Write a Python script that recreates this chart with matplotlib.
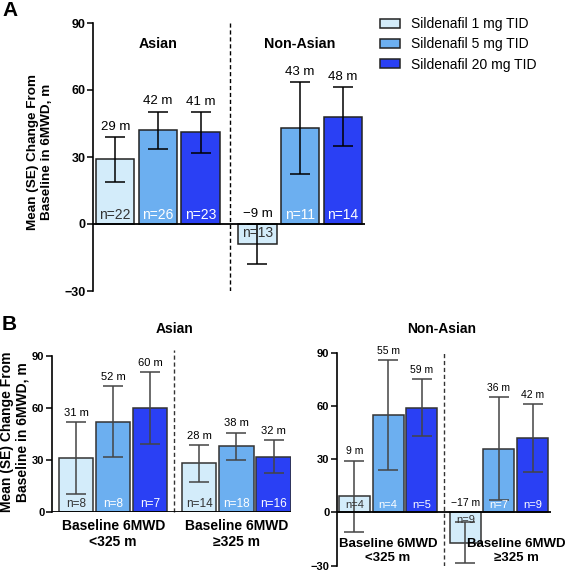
import matplotlib
matplotlib.use("Agg")
import matplotlib.pyplot as plt
from matplotlib.patches import Patch

plt.rcParams["font.family"] = ["Liberation Sans", "DejaVu Sans"]

doses = ["Sildenafil 1 mg TID", "Sildenafil 5 mg TID", "Sildenafil 20 mg TID"]
colors = ["#D3ECFA", "#6CAFF0", "#2A40F4"]
n_colors = ["#333333", "white", "white"]

# Panel A: by race
a_asian_mean = [29, 42, 41]
a_asian_se = [10, 8.3, 9.2]
a_asian_n = [22, 26, 23]
a_nonasian_mean = [-9, 43, 48]
a_nonasian_se = [9, 20.6, 13.2]
a_nonasian_n = [13, 11, 14]

# Panel B: by race and baseline 6MWD
b_asian_low_mean = [31, 52, 60]
b_asian_low_se = [20.8, 20.5, 20.6]
b_asian_low_n = [8, 8, 7]
b_asian_high_mean = [28, 38, 32]
b_asian_high_se = [10.7, 7.8, 9.5]
b_asian_high_n = [14, 18, 16]
b_nonasian_low_mean = [9, 55, 59]
b_nonasian_low_se = [20.2, 31, 16]
b_nonasian_low_n = [4, 4, 5]
b_nonasian_high_mean = [-17, 36, 42]
b_nonasian_high_se = [11.5, 29, 19]
b_nonasian_high_n = [9, 7, 9]

ylabel = "Mean (SE) Change From\nBaseline in 6MWD, m"
W, H = 565, 573


def px_axes(fig, left, top, right, bottom):
    return fig.add_axes([left / W, 1 - bottom / H, (right - left) / W, (bottom - top) / H])


def fmt(v):
    return ("\u2212%d m" % -v) if v < 0 else "%d m" % v


def draw_groups(ax, groups, offset, width, fs_val, fs_n, ecol, edge, capsize):
    for gi, (means, ses, ns) in enumerate(groups):
        xs = [gi * offset + i for i in range(3)]
        ax.bar(xs, means, width=width, color=colors, edgecolor=edge, linewidth=1.1, zorder=2)
        ax.errorbar(xs, means, yerr=ses, fmt="none", ecolor=ecol, elinewidth=1.1,
                    capsize=capsize, capthick=1.1, zorder=3)
        for i, x in enumerate(xs):
            m, s = means[i], ses[i]
            top = max(m + s, 0)
            ax.annotate(fmt(m), (x, top), xytext=(0, 3), textcoords="offset points",
                        ha="center", va="bottom", fontsize=fs_val, zorder=4)
            if m >= 0:
                ax.annotate("n=%d" % ns[i], (x, 0), xytext=(0, 1.5), textcoords="offset points",
                            ha="center", va="bottom", fontsize=fs_n, color=n_colors[i], zorder=4)
            else:
                ax.annotate("n=%d" % ns[i], (x, 0), xytext=(0, -1.5), textcoords="offset points",
                            ha="center", va="top", fontsize=fs_n, color=n_colors[i], zorder=4)


def style_axis(ax, ylim, ticks, xlim, fs):
    ax.set_ylim(*ylim)
    ax.set_xlim(*xlim)
    ax.set_yticks(ticks)
    ax.set_yticklabels([("\u2212%d" % -t) if t < 0 else str(t) for t in ticks],
                       fontsize=fs, fontweight="bold")
    ax.set_xticks([])
    for s in ["top", "right", "bottom"]:
        ax.spines[s].set_visible(False)
    ax.spines["left"].set_linewidth(1.2)
    ax.tick_params(axis="y", length=4, width=1.1, pad=1.5)
    ax.axhline(0, color="black", lw=1.3, zorder=5)
    ax.patch.set_alpha(0)


fig = plt.figure(figsize=(W / 100, H / 100), dpi=100)

# ---- Panel A
axA = px_axes(fig, 93, 23, 365, 291)
draw_groups(axA, [(a_asian_mean, a_asian_se, a_asian_n),
                  (a_nonasian_mean, a_nonasian_se, a_nonasian_n)],
            3.33, 0.9, 9.5, 10, "black", "#222222", 7)
style_axis(axA, (-30, 90), [-30, 0, 30, 60, 90], (-0.52, 5.85), 9)
axA.axvline(2.68, color="black", ls=(0, (3, 2)), lw=1)
axA.text(1, 80.5, "Asian", ha="center", va="center", fontsize=10.3, fontweight="bold")
axA.text(4.33, 80.5, "Non-Asian", ha="center", va="center", fontsize=10.3, fontweight="bold")

handles = [Patch(facecolor=c, edgecolor="#222222", linewidth=1.1) for c in colors]
fig.legend(handles, doses, loc="upper left", bbox_to_anchor=(380 / W, 1 - 17 / H),
           frameon=False, fontsize=10, handlelength=1.45, handleheight=0.6,
           handletextpad=0.8, labelspacing=0.45, borderaxespad=0, borderpad=0)

fig.text(40 / W, 1 - 152 / H, ylabel, rotation=90, ha="center", va="center",
         fontsize=9.7, fontweight="bold", multialignment="center")
fig.text(2 / W, 1 - 10 / H, "A", ha="left", va="center", fontsize=15, fontweight="bold")

# ---- Panel B left (Asian)
axB1 = px_axes(fig, 52, 356, 291, 512)
draw_groups(axB1, [(b_asian_low_mean, b_asian_low_se, b_asian_low_n),
                   (b_asian_high_mean, b_asian_high_se, b_asian_high_n)],
            3.32, 0.92, 8, 8.5, "#444444", "#333333", 7)
style_axis(axB1, (0, 90), [0, 30, 60, 90], (-0.65, 5.79), 8)
axB1.axvline(2.65, ymax=1.04, color="#333333", ls=(0, (3, 2)), lw=1, clip_on=False)
for gx, lab in [(1, "Baseline 6MWD\n<325 m"), (4.32, "Baseline 6MWD\n\u2265325 m")]:
    axB1.annotate(lab, (gx, 0), xytext=(0, -5), textcoords="offset points", ha="center",
                  va="top", fontsize=10, fontweight="bold", linespacing=1.2, annotation_clip=False)

# ---- Panel B right (Non-Asian)
axB2 = px_axes(fig, 337, 352.7, 551, 565.7)
draw_groups(axB2, [(b_nonasian_low_mean, b_nonasian_low_se, b_nonasian_low_n),
                   (b_nonasian_high_mean, b_nonasian_high_se, b_nonasian_high_n)],
            3.3, 0.92, 7.5, 8, "#444444", "#333333", 7)
style_axis(axB2, (-30, 90), [-30, 0, 30, 60, 90], (-0.52, 5.85), 8)
axB2.axvline(2.66, ymax=1.0, color="#333333", ls=(0, (3, 2)), lw=1)
axB2.text(1, -21.5, "Baseline 6MWD\n<325 m", ha="center", va="center", fontsize=9.5,
          fontweight="bold", linespacing=1.2)
axB2.text(4.83, -21.5, "Baseline 6MWD\n\u2265325 m", ha="center", va="center", fontsize=9.5,
          fontweight="bold", linespacing=1.2, clip_on=False)

fig.text(175 / W, 1 - 329 / H, "Asian", ha="center", va="center", fontsize=10, fontweight="bold")
fig.text(442 / W, 1 - 329 / H, "Non-Asian", ha="center", va="center", fontsize=10, fontweight="bold")
fig.text(15 / W, 1 - 432 / H, ylabel, rotation=90, ha="center", va="center",
         fontsize=10, fontweight="bold", multialignment="center", linespacing=1.1)
fig.text(2 / W, 1 - 324 / H, "B", ha="left", va="center", fontsize=15, fontweight="bold")

fig.savefig("out.png", dpi=100)
